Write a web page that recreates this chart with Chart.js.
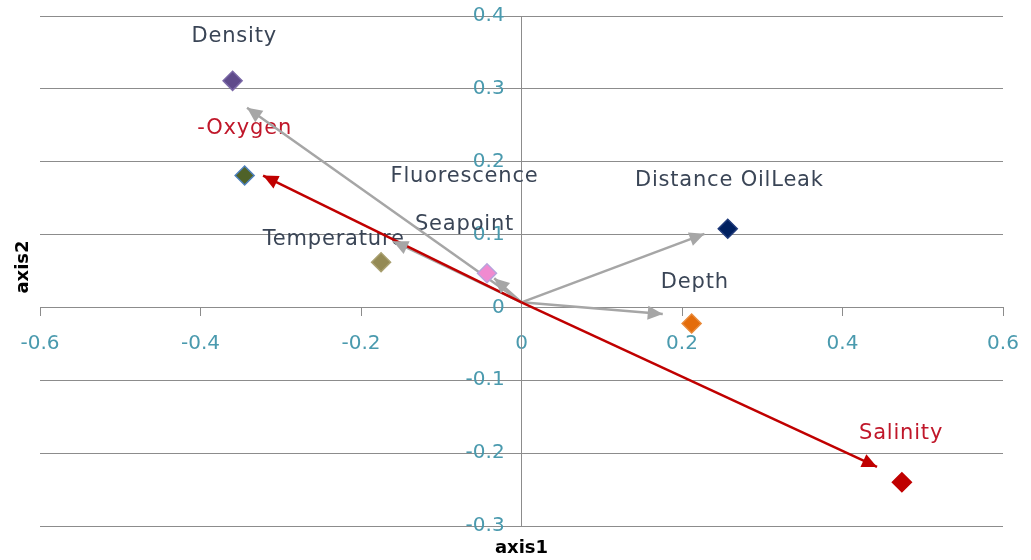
<!DOCTYPE html>
<html>
<head>
<meta charset="utf-8">
<script src="https://cdn.jsdelivr.net/npm/chart.js@4.4.1/dist/chart.umd.min.js"></script>
<style>
  html, body { margin: 0; background: #fff; }
  #wrap { width: 1031px; height: 560px; }
</style>
</head>
<body>
<div id="wrap"><canvas id="biplot"></canvas></div>
<script>
// tick values
const xTicks = [-0.6, -0.4, -0.2, 0, 0.2, 0.4, 0.6];
const yTicks = [-0.3, -0.2, -0.1, 0, 0.1, 0.2, 0.3, 0.4];

// diamond markers
const markerNames = ['Density', 'Oxygen', 'Temperature', 'Seapoint', 'Distance OilLeak', 'Depth', 'Salinity'];
const markerX = [-0.360, -0.345, -0.175, -0.043, 0.257, 0.212, 0.474];
const markerY = [0.311, 0.181, 0.062, 0.047, 0.108, -0.022, -0.240];

// arrows from the origin
const arrowOrigin = [0, 0.007];
const arrowX = [-0.342, -0.322, -0.160, -0.034, 0.228, 0.176, 0.443];
const arrowY = [0.274, 0.181, 0.091, 0.040, 0.101, -0.009, -0.219];
const arrowRed = [false, true, false, false, false, false, true];

// variable names
const labelText = ['Density', '-Oxygen', 'Fluorescence', 'Temperature', 'Seapoint', 'Distance OilLeak', 'Depth', 'Salinity'];
const labelX = [-0.358, -0.345, -0.071, -0.234, -0.071, 0.259, 0.216, 0.473];
const labelY = [0.372, 0.245, 0.179, 0.0925, 0.114, 0.174, 0.034, -0.173];
const labelRed = [false, true, false, false, false, false, false, true];

const markerFill = ['#5F4B8B', '#4F6228', '#948A54', '#F08AD0', '#002060', '#E46C0A', '#C00000'];
const markerEdge = ['#7A68A6', '#4F81BD', '#A9A070', '#B8A4DC', '#1F3A7A', '#E98A3A', '#C00000'];

const GREY = '#A6A6A6';
const RED = '#C00000';
const GRID = '#8C8C8C';
const TEXT = '#3A4556';
const TEXT_RED = '#C0172A';
const TICK = '#4A9AAE';
const FONT = "'DejaVu Sans', sans-serif";
const fmt = (v) => v === 0 ? '0' : v.toFixed(1);

// axes sit inside the plot, so they must not take room or push the plot edges
const noRoom = (s) => {
  s.width = s.isHorizontal() ? s.width : 0;
  s.height = s.isHorizontal() ? 0 : s.height;
  s.paddingLeft = s.paddingRight = s.paddingTop = s.paddingBottom = 0;
};

const arrowSets = arrowX.map((x, i) => ({
  type: 'line',
  label: 'arrow' + i,
  isArrow: true,
  data: [{ x: arrowOrigin[0], y: arrowOrigin[1] }, { x, y: arrowY[i] }],
  borderColor: arrowRed[i] ? RED : GREY,
  borderWidth: 2.5,
  pointRadius: 0,
  fill: false,
  order: arrowRed[i] ? 1 : 2,
}));

const arrowHeads = {
  id: 'arrowHeads',
  afterDatasetsDraw(chart) {
    const ctx = chart.ctx;
    chart.data.datasets.forEach((ds, i) => {
      if (!ds.isArrow) return;
      const pts = chart.getDatasetMeta(i).data;
      const a = pts[0], b = pts[1];
      const ang = Math.atan2(b.y - a.y, b.x - a.x);
      const len = 15, half = 7;
      ctx.save();
      ctx.translate(b.x, b.y);
      ctx.rotate(ang);
      ctx.beginPath();
      ctx.moveTo(0, 0);
      ctx.lineTo(-len, -half);
      ctx.lineTo(-len, half);
      ctx.closePath();
      ctx.fillStyle = ds.borderColor;
      ctx.fill();
      ctx.restore();
    });
  }
};

const varLabels = {
  id: 'varLabels',
  beforeDatasetsDraw(chart) {
    const { ctx, scales: { x, y } } = chart;
    ctx.save();
    ctx.font = '21px ' + FONT;
    ctx.letterSpacing = '0.8px';
    ctx.textAlign = 'center';
    ctx.textBaseline = 'middle';
    labelText.forEach((t, i) => {
      ctx.fillStyle = labelRed[i] ? TEXT_RED : TEXT;
      ctx.fillText(t, x.getPixelForValue(labelX[i]), y.getPixelForValue(labelY[i]));
    });
    ctx.restore();
  }
};

const axisTitles = {
  id: 'axisTitles',
  afterDraw(chart) {
    const { ctx } = chart;
    ctx.save();
    ctx.font = 'bold 18px ' + FONT;
    ctx.fillStyle = '#000';
    ctx.textAlign = 'center';
    ctx.textBaseline = 'middle';
    ctx.fillText('axis1', chart.scales.x.getPixelForValue(0), 548);
    ctx.translate(23, 267);
    ctx.rotate(-Math.PI / 2);
    ctx.fillText('axis2', 0, 0);
    ctx.restore();
  }
};

new Chart(document.getElementById('biplot'), {
  type: 'scatter',
  data: {
    datasets: [
      {
        label: 'variables',
        data: markerX.map((x, i) => ({ x, y: markerY[i] })),
        pointStyle: 'rectRot',
        pointRadius: 9.5,
        pointHoverRadius: 9.5,
        backgroundColor: markerFill,
        borderColor: markerEdge,
        borderWidth: 1.5,
        order: 0,
      },
      ...arrowSets,
    ],
  },
  options: {
    responsive: true, maintainAspectRatio: false, animation: false,
    layout: { padding: { left: 40, right: 28, top: 16, bottom: 34 } },
    plugins: { legend: { display: false }, tooltip: { enabled: false } },
    scales: {
      x: {
        type: 'linear', position: { y: 0 }, min: -0.6, max: 0.6,
        afterFit: noRoom,
        afterBuildTicks: (s) => { s.ticks = xTicks.map(v => ({ value: v })); },
        grid: { drawOnChartArea: false, drawTicks: true, tickLength: 8, color: GRID },
        border: { display: true, color: GRID, width: 1 },
        ticks: { color: TICK, font: { family: FONT, size: 20 }, padding: 16, callback: fmt },
      },
      y: {
        type: 'linear', position: { x: 0 }, min: -0.3, max: 0.4,
        afterFit: noRoom,
        afterBuildTicks: (s) => { s.ticks = yTicks.map(v => ({ value: v })); },
        grid: { drawOnChartArea: true, drawTicks: false, color: GRID, lineWidth: 1 },
        border: { display: true, color: GRID, width: 1 },
        ticks: { display: false },
      },
      // carries the y tick labels a little left of the vertical axis
      yLabels: {
        type: 'linear', axis: 'y', position: { x: -0.021 }, min: -0.3, max: 0.4,
        afterFit: noRoom,
        afterBuildTicks: (s) => { s.ticks = yTicks.map(v => ({ value: v })); },
        grid: { display: false, drawTicks: false },
        border: { display: false },
        ticks: { color: TICK, font: { family: FONT, size: 20 }, callback: fmt },
      },
    },
  },
  plugins: [varLabels, arrowHeads, axisTitles],
});
</script>
</body>
</html>
